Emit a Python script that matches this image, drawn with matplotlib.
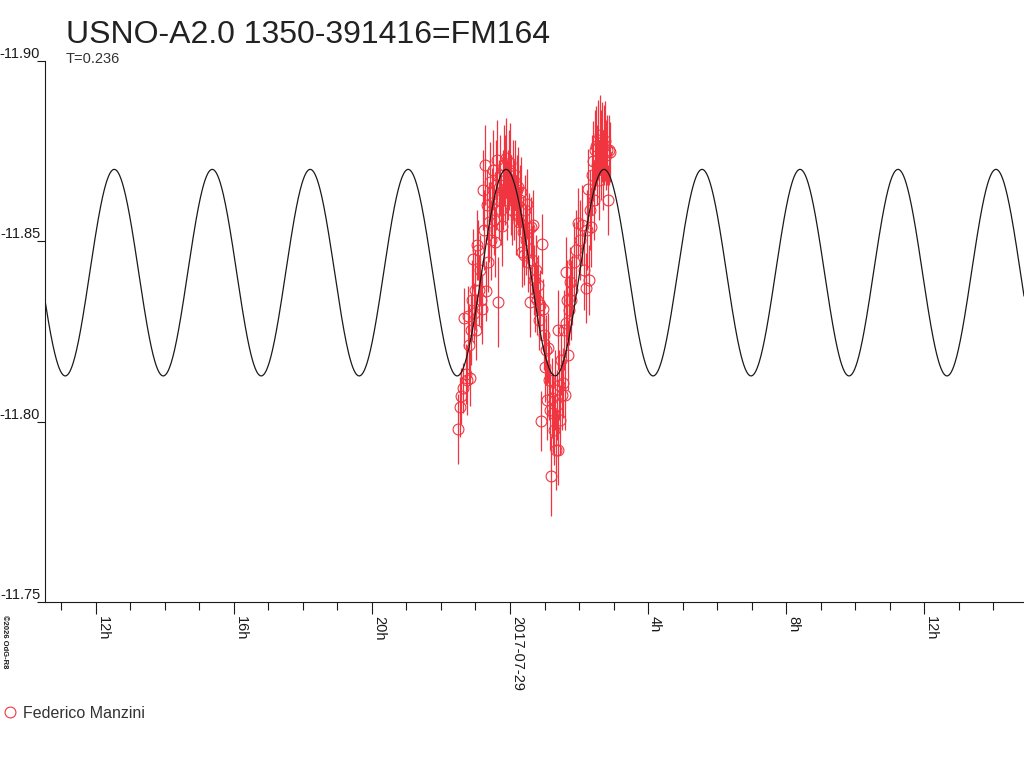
#!/usr/bin/env python3
"""
Light curve of USNO-A2.0 1350-391416 (FM164) with the fitted double-wave model.
"""

import numpy as np
import matplotlib
matplotlib.use('Agg')
import matplotlib.pyplot as plt
from matplotlib.lines import Line2D

# --- Theme ---
RED = '#F03540'
BLACK = '#1A1A1A'
plt.rcParams['font.family'] = ['Liberation Sans', 'DejaVu Sans']

TITLE = 'USNO-A2.0 1350-391416=FM164'
PERIOD_LABEL = 'T=0.236'
OBSERVER = 'Federico Manzini'
CREDIT = '\u00a92026 OdG-R8'

# --- Fitted model (period in days, epoch of maximum in hours from 2017-07-29 0h UT) ---
PERIOD_DAYS = 0.2365
EPOCH_MAX_H = -11.464
MEAN_MAG = -11.8413
AMPLITUDE = 0.0286

# --- Observations: hours from 2017-07-29 0h UT, magnitude, error ---
HOURS = [
    -1.506, -1.448, -1.419, -1.361, -1.332, -1.274, -1.245, -1.217, -1.188, -1.159,
    -1.130, -1.101, -1.072, -1.043, -1.014, -0.985, -0.956, -0.927, -0.898, -0.869,
    -0.840, -0.811, -0.782, -0.753, -0.724, -0.695, -0.666, -0.637, -0.608, -0.579,
    -0.550, -0.521, -0.492, -0.463, -0.434, -0.406, -0.377, -0.348, -0.319, -0.290,
    -0.261, -0.232, -0.203, -0.174, -0.145, -0.116, -0.087, -0.058, -0.029, 0.000,
    0.029, 0.058, 0.087, 0.116, 0.145, 0.174, 0.203, 0.232, 0.261, 0.290,
    0.319, 0.348, 0.377, 0.406, 0.434, 0.463, 0.492, 0.521, 0.550, 0.579,
    0.608, 0.637, 0.666, 0.695, 0.724, 0.753, 0.782, 0.811, 0.840, 0.869,
    0.898, 0.927, 0.956, 0.985, 1.014, 1.043, 1.072, 1.101, 1.130, 1.159,
    1.188, 1.217, 1.245, 1.274, 1.303, 1.332, 1.361, 1.390, 1.405, 1.419,
    1.448, 1.477, 1.506, 1.535, 1.564, 1.593, 1.622, 1.636, 1.651, 1.680,
    1.709, 1.738, 1.767, 1.796, 1.854, 1.912, 1.970, 2.028, 2.085, 2.143,
    2.201, 2.230, 2.259, 2.288, 2.317, 2.346, 2.375, 2.404, 2.433, 2.462,
    2.491, 2.520, 2.549, 2.578, 2.607, 2.636, 2.665, 2.694, 2.723, 2.752,
    2.781, 2.810, 2.839, 2.868, 2.897,
]
MAGS = [
    -11.7980, -11.8041, -11.8071, -11.8094, -11.8287, -11.8132, -11.8116, -11.8293, -11.8213, -11.8121,
    -11.8254, -11.8337, -11.8451, -11.8301, -11.8365, -11.8254, -11.8490, -11.8476, -11.8365, -11.8420,
    -11.8337, -11.8312, -11.8642, -11.8531, -11.8711, -11.8362, -11.8600, -11.8443, -11.8553, -11.8664,
    -11.8503, -11.8606, -11.8697, -11.8559, -11.8498, -11.8656, -11.8725, -11.8332, -11.8614, -11.8683,
    -11.8587, -11.8542, -11.8642, -11.8711, -11.8670, -11.8731, -11.8614, -11.8656, -11.8697, -11.8717,
    -11.8628, -11.8587, -11.8670, -11.8614, -11.8683, -11.8573, -11.8642, -11.8650, -11.8553, -11.8614,
    -11.8636, -11.8470, -11.8526, -11.8462, -11.8587, -11.8503, -11.8603, -11.8443, -11.8537, -11.8332,
    -11.8539, -11.8448, -11.8545, -11.8393, -11.8346, -11.8420, -11.8337, -11.8379, -11.8282, -11.8323,
    -11.8002, -11.8492, -11.8312, -11.8240, -11.8152, -11.8199, -11.8060, -11.8204, -11.8116, -11.8033,
    -11.7850, -11.8066, -11.8024, -11.7977, -11.8088, -11.7922, -11.8046, -11.7922, -11.8254, -11.8102,
    -11.8005, -11.8171, -11.8074, -11.8107, -11.8254, -11.8074, -11.8274, -11.8415, -11.8337, -11.8185,
    -11.8310, -11.8387, -11.8337, -11.8365, -11.8443, -11.8476, -11.8551, -11.8503, -11.8545, -11.8420,
    -11.8371, -11.8531, -11.8645, -11.8393, -11.8587, -11.8539, -11.8683, -11.8722, -11.8614, -11.8753,
    -11.8764, -11.8711, -11.8780, -11.8670, -11.8794, -11.8739, -11.8775, -11.8697, -11.8767, -11.8778,
    -11.8739, -11.8753, -11.8614, -11.8753, -11.8747,
]
ERRS = [
    0.0097, 0.0083, 0.0078, 0.0069, 0.0083, 0.0083, 0.0097, 0.0083, 0.0111, 0.0078,
    0.0097, 0.0111, 0.0083, 0.0083, 0.0111, 0.0083, 0.0097, 0.0083, 0.0097, 0.0097,
    0.0083, 0.0097, 0.0111, 0.0111, 0.0111, 0.0083, 0.0097, 0.0083, 0.0111, 0.0111,
    0.0111, 0.0097, 0.0111, 0.0097, 0.0097, 0.0125, 0.0111, 0.0125, 0.0111, 0.0111,
    0.0097, 0.0111, 0.0111, 0.0111, 0.0125, 0.0111, 0.0111, 0.0097, 0.0111, 0.0111,
    0.0111, 0.0097, 0.0111, 0.0111, 0.0097, 0.0111, 0.0097, 0.0111, 0.0097, 0.0097,
    0.0097, 0.0097, 0.0097, 0.0083, 0.0097, 0.0097, 0.0097, 0.0083, 0.0097, 0.0097,
    0.0083, 0.0097, 0.0097, 0.0097, 0.0097, 0.0097, 0.0097, 0.0083, 0.0083, 0.0097,
    0.0083, 0.0083, 0.0083, 0.0097, 0.0097, 0.0097, 0.0111, 0.0097, 0.0111, 0.0111,
    0.0111, 0.0111, 0.0111, 0.0097, 0.0111, 0.0111, 0.0097, 0.0097, 0.0111, 0.0097,
    0.0097, 0.0097, 0.0097, 0.0097, 0.0111, 0.0097, 0.0097, 0.0097, 0.0111, 0.0097,
    0.0097, 0.0097, 0.0111, 0.0097, 0.0111, 0.0111, 0.0097, 0.0111, 0.0111, 0.0111,
    0.0097, 0.0111, 0.0111, 0.0097, 0.0111, 0.0111, 0.0111, 0.0111, 0.0111, 0.0111,
    0.0111, 0.0111, 0.0111, 0.0111, 0.0111, 0.0125, 0.0111, 0.0111, 0.0111, 0.0111,
    0.0097, 0.0097, 0.0097, 0.0097, 0.0083,
]

X_TICKS = [-12, -8, -4, 0, 4, 8, 12]
X_TICK_LABELS = ['12h', '16h', '20h', '2017-07-29', '4h', '8h', '12h']
Y_TICKS = [-11.90, -11.85, -11.80, -11.75]
X_RANGE = (-13.47, 14.89)


def main():
    fig = plt.figure(figsize=(10.24, 7.68), dpi=100)
    fig.set_facecolor('white')
    ax = fig.add_axes([45 / 1024, 165.7 / 768, 979 / 1024, 541.6 / 768])

    # model curve
    t = np.linspace(X_RANGE[0], X_RANGE[1], 3000)
    half_period_h = PERIOD_DAYS * 24 / 2
    model = MEAN_MAG - AMPLITUDE * np.cos(2 * np.pi * (t - EPOCH_MAX_H) / half_period_h)
    ax.plot(t, model, color=BLACK, lw=0.9, zorder=4)

    # observations
    ax.errorbar(HOURS, MAGS, yerr=ERRS, fmt='o', mfc='none', mec=RED, ms=7.8, mew=0.8,
                ecolor=RED, elinewidth=0.9, capsize=0, zorder=3)

    ax.set_xlim(*X_RANGE)
    ax.set_ylim(-11.75, -11.90)

    for side in ('top', 'right'):
        ax.spines[side].set_visible(False)
    for side in ('left', 'bottom'):
        ax.spines[side].set_color(BLACK)
        ax.spines[side].set_linewidth(0.8)

    ax.set_yticks(Y_TICKS)
    ax.set_yticklabels([f'{v:.2f}' for v in Y_TICKS])
    ax.tick_params(axis='y', direction='out', length=6, width=0.8, pad=-2.5,
                   labelsize=10.5, colors=BLACK)
    for lbl in ax.get_yticklabels():
        lbl.set_verticalalignment('bottom')

    ax.set_xticks(X_TICKS)
    ax.set_xticklabels(X_TICK_LABELS, rotation=-90, ha='left')
    ax.set_xticks([h for h in range(-13, 15) if h not in X_TICKS], minor=True)
    ax.tick_params(axis='x', which='major', direction='out', length=8.6, width=0.8,
                   pad=1, labelsize=10.5, colors=BLACK)
    ax.tick_params(axis='x', which='minor', direction='out', length=6, width=0.8, colors=BLACK)

    fig.text(66 / 1024, 1 - 43 / 768, TITLE, fontsize=23, color='#222222', va='baseline')
    fig.text(66 / 1024, 1 - 63.3 / 768, PERIOD_LABEL, fontsize=10.5, color='#333333', va='baseline')
    fig.text(1 / 1024, 1 - 615 / 768, CREDIT, fontsize=5.5, fontweight='bold', rotation=-90,
             ha='left', va='top', color=BLACK)

    proxy = Line2D([], [], ls='none', marker='o', mfc='none', mec=RED, ms=7.8, mew=0.8)
    fig.legend(handles=[proxy], labels=[OBSERVER], loc='center left',
               bbox_to_anchor=(5 / 1024, 1 - 713.3 / 768), frameon=False,
               handlelength=0.6, handletextpad=0.5, borderaxespad=0, borderpad=0,
               fontsize=11.5, labelcolor='#333333')

    fig.savefig('out.png', dpi=100, facecolor='white')
    plt.close(fig)


if __name__ == '__main__':
    main()
